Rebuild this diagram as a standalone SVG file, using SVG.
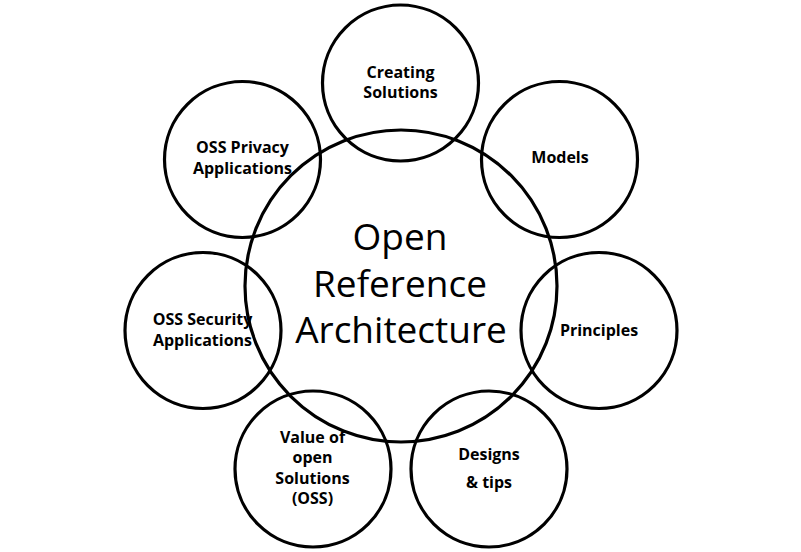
<svg xmlns="http://www.w3.org/2000/svg" width="801" height="552" viewBox="0 0 801 552">
<style>
.c{fill:none;stroke:#000;stroke-width:3.2}
.t{font-family:"Open Sans","Liberation Sans",sans-serif;font-weight:bold;font-size:16px;fill:#000;text-anchor:middle}
.m{font-family:"Open Sans","Liberation Sans",sans-serif;font-size:37px;fill:#000;text-anchor:middle}
</style>
<rect width="801" height="552" fill="#fff"/>
<g id="center">
<circle class="c" cx="401" cy="286" r="156"/>
<text class="m" x="400" y="250">Open</text>
<text class="m" x="400" y="297">Reference</text>
<text class="m" x="401" y="343">Architecture</text>
</g>
<g id="creating-solutions">
<circle class="c" cx="400.5" cy="83" r="78"/>
<text class="t" x="400.5" y="78">Creating</text>
<text class="t" x="400.5" y="98">Solutions</text>
</g>
<g id="models">
<circle class="c" cx="559.5" cy="159.5" r="78"/>
<text class="t" x="560" y="163">Models</text>
</g>
<g id="principles">
<circle class="c" cx="599" cy="330.5" r="78"/>
<text class="t" x="599" y="336">Principles</text>
</g>
<g id="designs-tips">
<circle class="c" cx="489" cy="469" r="78"/>
<text class="t" x="489" y="460">Designs</text>
<text class="t" x="489" y="488">&amp; tips</text>
</g>
<g id="value-oss">
<circle class="c" cx="313" cy="469" r="78"/>
<text class="t" x="312.5" y="443">Value of</text>
<text class="t" x="312.5" y="463">open</text>
<text class="t" x="312.5" y="484">Solutions</text>
<text class="t" x="312.5" y="504">(OSS)</text>
</g>
<g id="oss-security">
<circle class="c" cx="203" cy="330.5" r="78"/>
<text class="t" x="202.5" y="325">OSS Security</text>
<text class="t" x="202.5" y="346">Applications</text>
</g>
<g id="oss-privacy">
<circle class="c" cx="242.5" cy="159.5" r="78"/>
<text class="t" x="242.5" y="153">OSS Privacy</text>
<text class="t" x="242.5" y="174">Applications</text>
</g>
<g id="connectors"></g>
</svg>
